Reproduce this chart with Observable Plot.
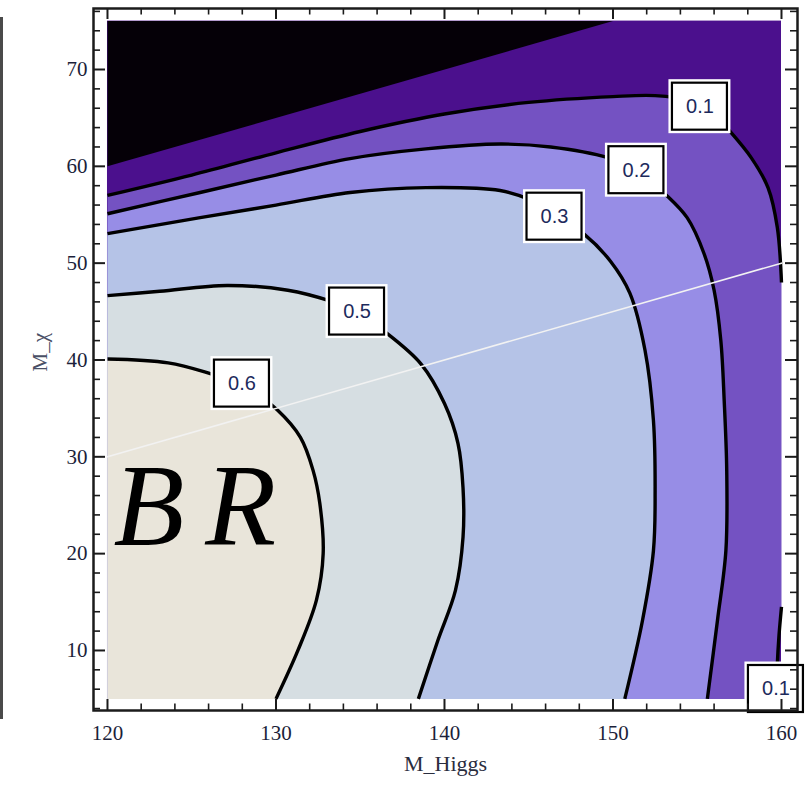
<!DOCTYPE html>
<html><head><meta charset="utf-8">
<script src="https://cdn.jsdelivr.net/npm/d3@7"></script>
<script src="https://cdn.jsdelivr.net/npm/@observablehq/plot@0.6"></script>
<style>
body{margin:0;background:#fff;}
#chart{position:relative;width:811px;height:791px;overflow:hidden;}
#chart svg{display:block;}
#edge{position:absolute;left:0;top:17px;width:3px;height:702px;background:#4a4a4a;}
</style>
</head><body>
<div id="chart"><div id="edge"></div></div>
<script>
// ---- axis ticks ----
const xMajor = [120, 130, 140, 150, 160];
const xMinor = [122,124,126,128,132,134,136,138,142,144,146,148,152,154,156,158];
const yMajor = [10, 20, 30, 40, 50, 60, 70];
const yMinor = [4,6,8,12,14,16,18,22,24,26,28,32,34,36,38,42,44,46,48,52,54,56,58,62,64,66,68,72,74,76];

// ---- data range (region with values) ----
const dataX = [120, 160];
const dataY = [5, 75];

// ---- forbidden region boundary M_chi = M_H/2 (black) ----
const kinX = [120, 150, 120];
const kinY = [60, 75, 75];

// ---- white guide line ----
const guideX = [120, 160];
const guideY = [30, 50];

// ---- contours ----
const c01aX = [120, 125, 130, 135, 140, 145, 150, 152.5, 154.5, 156, 156.8, 158.2, 159.2, 159.75, 160];
const c01aY = [57.0, 59.1, 61.4, 63.6, 65.4, 66.6, 67.2, 67.3, 66.8, 65.4, 63.9, 60.9, 57.8, 53.7, 48.0];
const c01bX = [160, 159.85, 159.75, 159.7];
const c01bY = [14.5, 11.5, 8.5, 5];
const c02X = [120, 125.5, 130, 134.4, 138.9, 143.3, 146.3, 149.7, 151.5, 153.0, 154.4, 155.4, 156.0, 156.4, 156.6, 156.75, 156.7, 156.2, 155.6];
const c02Y = [55.1, 57.3, 59.1, 60.8, 61.8, 62.3, 62.0, 60.9, 59.6, 57.3, 54.7, 51.0, 47.2, 42.0, 35.8, 28.6, 20.3, 13.1, 5];
const c03X = [120, 125.5, 130, 134.4, 138.9, 143.3, 145.0, 146.5, 148.25, 149.85, 151.0, 151.9, 152.4, 152.5, 152.4, 151.75, 150.7];
const c03Y = [53.05, 54.7, 56.0, 57.3, 57.8, 57.5, 56.6, 55.0, 53.05, 50.2, 46.9, 41.0, 33.75, 26.5, 20.3, 13.1, 5];
const c05X = [120, 123.1, 127.1, 130.7, 133.2, 134.8, 136.4, 138.6, 140.0, 140.8, 141.1, 141.1, 140.65, 139.6, 138.45];
const c05Y = [46.65, 47.1, 47.7, 47.2, 46.1, 45.0, 43.0, 39.6, 35.5, 31.4, 26.8, 21.7, 16.2, 11.0, 5];
const c06X = [120, 123.6, 126.1, 128.0, 130.1, 131.45, 132.2, 132.6, 132.8, 132.4, 131.3, 130.0];
const c06Y = [40.1, 39.7, 38.6, 37.5, 34.8, 32.0, 28.6, 25.2, 20.0, 15.2, 10.0, 5];

// ---- band colours: <0.1, 0.1-0.2, 0.2-0.3, 0.3-0.5, 0.5-0.6, >0.6, forbidden ----
const bandColors = ["#4b108d", "#7452c2", "#978de6", "#b5c3e7", "#d6dee2", "#e9e5da", "#050007"];

// ---- contour labels ----
const labelText = ["0.1", "0.2", "0.3", "0.5", "0.6", "0.1"];
const labelX = [155.16, 151.39, 146.53, 134.81, 127.98, 159.67];
const labelY = [66.16, 59.6, 54.8, 45.0, 37.56, 6.02];

// ---- annotation (letters of "BR") ----
const brText = ["B", "R"];
const brX = [120.35, 125.8];
const brY = [20.9, 20.9];

const xTitle = ["M_Higgs"];
const yTitle = ["M_\u03C7"];

// build tables
const pts = (xs, ys) => xs.map((x, i) => ({x, y: ys[i]}));
const corner = {x: dataX[0], y: dataY[0]};
const poly01 = [...pts(c01aX, c01aY), ...pts(c01bX, c01bY), corner];
const poly02 = [...pts(c02X, c02Y), corner];
const poly03 = [...pts(c03X, c03Y), corner];
const poly05 = [...pts(c05X, c05Y), corner];
const poly06 = [...pts(c06X, c06Y), corner];
const kinPoly = pts(kinX, kinY);
const labels = labelText.map((t, i) => ({t, x: labelX[i], y: labelY[i]}));

const innerH = 791 - 8 - 81;
const innerW = 811 - 93 - 14;
const axisColor = "#1b1b1b";
const serif = "'Liberation Serif', 'Times New Roman', serif";
const contourStyle = {x: "x", y: "y", stroke: "#000", strokeWidth: 3.4, curve: "catmull-rom", strokeLinecap: "butt"};

const chart = Plot.plot({
  width: 811, height: 791,
  marginLeft: 93, marginRight: 14, marginTop: 8, marginBottom: 81,
  x: {domain: [119.17, 160.95]},
  y: {domain: [3.8, 76.3]},
  style: {background: "white", overflow: "visible"},
  marks: [
    // filled bands
    Plot.rect([0], {x1: () => dataX[0], x2: () => dataX[1], y1: () => dataY[0], y2: () => dataY[1], fill: bandColors[0]}),
    Plot.line(kinPoly, {x: "x", y: "y", fill: bandColors[6], stroke: "none"}),
    Plot.line(poly01, {x: "x", y: "y", fill: bandColors[1], stroke: "none"}),
    Plot.line(poly02, {x: "x", y: "y", fill: bandColors[2], stroke: "none"}),
    Plot.line(poly03, {x: "x", y: "y", fill: bandColors[3], stroke: "none"}),
    Plot.line(poly05, {x: "x", y: "y", fill: bandColors[4], stroke: "none"}),
    Plot.line(poly06, {x: "x", y: "y", fill: bandColors[5], stroke: "none"}),
    // contour lines
    Plot.line(pts(c01aX, c01aY), contourStyle),
    Plot.line(pts(c01bX, c01bY), contourStyle),
    Plot.line(pts(c02X, c02Y), contourStyle),
    Plot.line(pts(c03X, c03Y), contourStyle),
    Plot.line(pts(c05X, c05Y), contourStyle),
    Plot.line(pts(c06X, c06Y), contourStyle),
    // white guide line
    Plot.line(pts(guideX, guideY), {x: "x", y: "y", stroke: "#f2f2f2", strokeWidth: 1.6}),
    // labels
    Plot.rect(labels, {x1: "x", x2: "x", y1: "y", y2: "y", insetLeft: -31, insetRight: -31, insetTop: -27, insetBottom: -27, fill: "white"}),
    Plot.rect(labels, {x1: "x", x2: "x", y1: "y", y2: "y", insetLeft: -27.5, insetRight: -27.5, insetTop: -23.5, insetBottom: -23.5, fill: "white", stroke: "#000", strokeWidth: 2.2}),
    Plot.text(labels, {x: "x", y: "y", text: "t", fontSize: 20, fontFamily: "'Liberation Sans', Arial, sans-serif", fill: "#1d2a5c"}),
    // BR annotation
    Plot.text(brText, {x: (d, i) => brX[i], y: (d, i) => brY[i], text: d => d, fontSize: 116, fontStyle: "italic", fontFamily: serif, textAnchor: "start", lineAnchor: "bottom", fill: "#000"}),
    // frame and ticks
    Plot.frame({stroke: axisColor, strokeWidth: 2.5}),
    Plot.tickX(xMajor, {x: d => d, insetTop: innerH - 11, stroke: axisColor, strokeWidth: 2}),
    Plot.tickX(xMajor, {x: d => d, insetBottom: innerH - 11, stroke: axisColor, strokeWidth: 2}),
    Plot.tickX(xMinor, {x: d => d, insetTop: innerH - 6.5, stroke: axisColor, strokeWidth: 1.6}),
    Plot.tickX(xMinor, {x: d => d, insetBottom: innerH - 6.5, stroke: axisColor, strokeWidth: 1.6}),
    Plot.tickY(yMajor, {y: d => d, insetRight: innerW - 12, stroke: axisColor, strokeWidth: 2}),
    Plot.tickY(yMajor, {y: d => d, insetLeft: innerW - 12, stroke: axisColor, strokeWidth: 2}),
    Plot.tickY(yMinor, {y: d => d, insetRight: innerW - 7, stroke: axisColor, strokeWidth: 1.6}),
    Plot.tickY(yMinor, {y: d => d, insetLeft: innerW - 7, stroke: axisColor, strokeWidth: 1.6}),
    Plot.axisX(xMajor, {anchor: "bottom", tickSize: 0, tickPadding: 15, fontSize: 21, fontFamily: serif, fill: "#1c1f3a", label: null}),
    Plot.axisY(yMajor, {anchor: "left", tickSize: 0, tickPadding: 6, fontSize: 21, fontFamily: serif, fill: "#1c1f3a", label: null}),
    Plot.text(xTitle, {frameAnchor: "bottom", dy: 60, fontSize: 22, fontFamily: serif, fill: "#2a2d3e"}),
    Plot.text(yTitle, {frameAnchor: "left", dx: -53, dy: 12, rotate: -90, fontSize: 21, fontFamily: serif, fill: "#4a4f66"})
  ]
});
document.getElementById("chart").appendChild(chart);
</script>
</body></html>
